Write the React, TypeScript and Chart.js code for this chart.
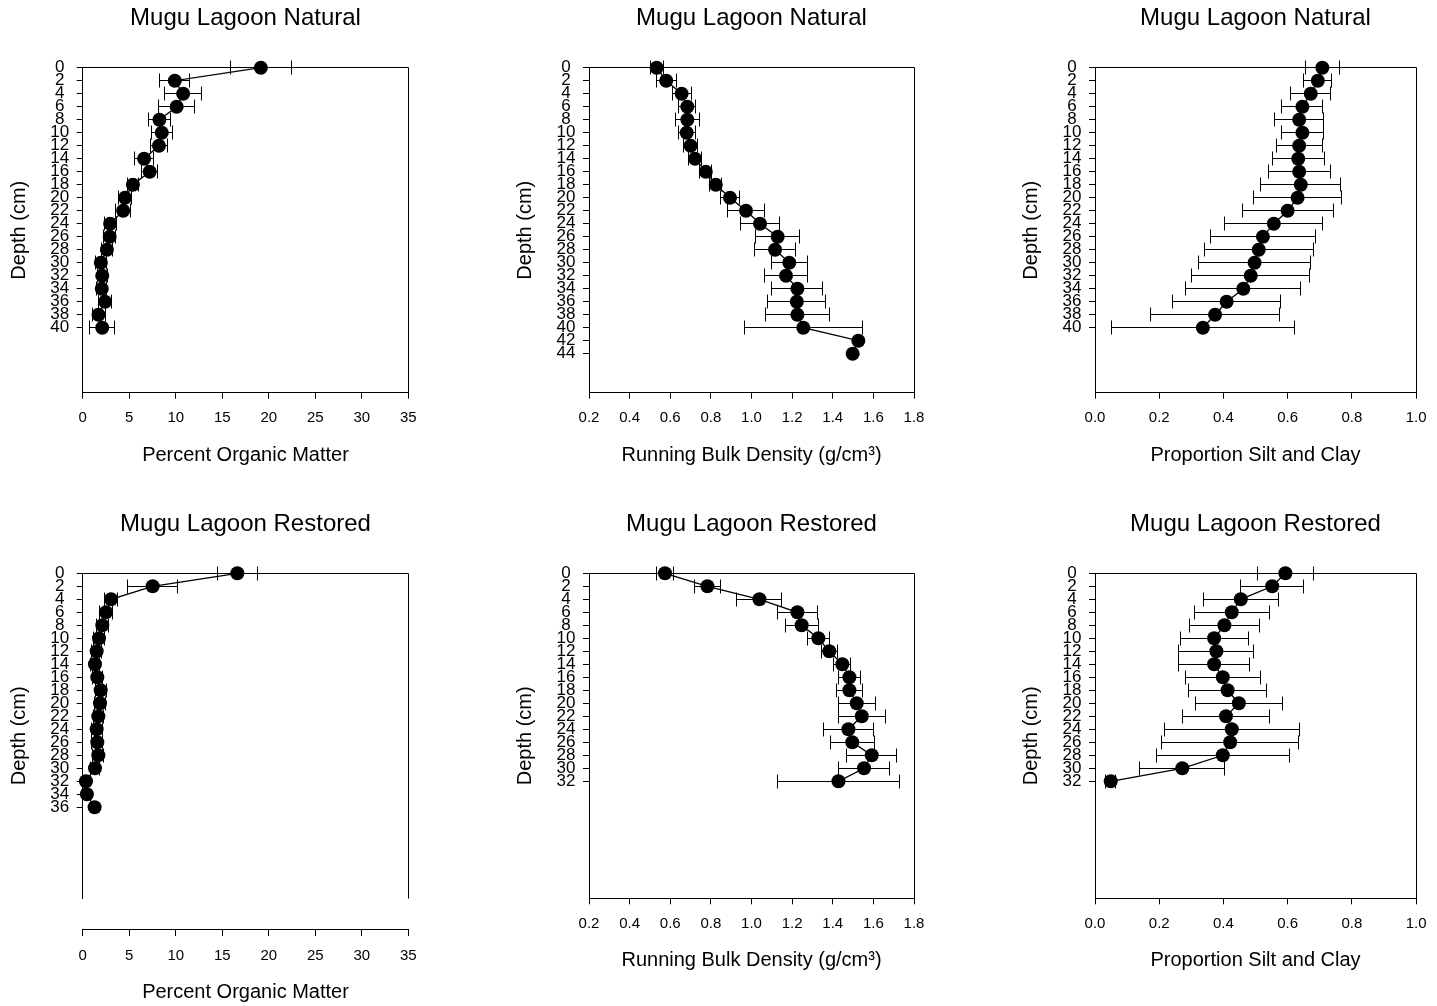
import { useEffect, useRef } from "react";
import { Chart, registerables } from "chart.js";

Chart.register(...registerables);

const FONT = "'Liberation Sans', Arial, Helvetica, sans-serif";

// Sampling depths (cm)
const depthsNaturalOM = [0, 2, 4, 6, 8, 10, 12, 14, 16, 18, 20, 22, 24, 26, 28, 30, 32, 34, 36, 38, 40];
const depthsNaturalBD = [0, 2, 4, 6, 8, 10, 12, 14, 16, 18, 20, 22, 24, 26, 28, 30, 32, 34, 36, 38, 40, 42, 44];
const depthsNaturalSilt = [0, 2, 4, 6, 8, 10, 12, 14, 16, 18, 20, 22, 24, 26, 28, 30, 32, 34, 36, 38, 40];
const depthsRestoredOM = [0, 2, 4, 6, 8, 10, 12, 14, 16, 18, 20, 22, 24, 26, 28, 30, 32, 34, 36];
const depthsRestoredBD = [0, 2, 4, 6, 8, 10, 12, 14, 16, 18, 20, 22, 24, 26, 28, 30, 32];
const depthsRestoredSilt = [0, 2, 4, 6, 8, 10, 12, 14, 16, 18, 20, 22, 24, 26, 28, 30, 32];

// Percent organic matter, natural marsh (mean and standard error)
const omNatural = [19.15, 9.9, 10.8, 10.1, 8.25, 8.5, 8.2, 6.6, 7.2, 5.4, 4.55, 4.35, 2.95, 2.9, 2.6, 1.95, 2.1, 2.05, 2.4, 1.7, 2.1];
const omNaturalSE = [3.25, 1.62, 2.02, 1.97, 1.2, 1.15, 0.88, 1.05, 0.85, 0.55, 0.72, 0.8, 0.63, 0.62, 0.6, 0.6, 0.55, 0.55, 0.65, 0.7, 1.35];

// Running bulk density (g/cm3), natural marsh
const bdNatural = [0.533, 0.58, 0.656, 0.684, 0.684, 0.681, 0.7, 0.722, 0.775, 0.824, 0.894, 0.973, 1.042, 1.129, 1.116, 1.186, 1.17, 1.226, 1.223, 1.226, 1.255, 1.526, 1.498];
const bdNaturalSE = [0.032, 0.05, 0.047, 0.042, 0.059, 0.042, 0.035, 0.03, 0.03, 0.03, 0.049, 0.09, 0.095, 0.107, 0.1, 0.09, 0.107, 0.126, 0.142, 0.156, 0.29, 0, 0];

// Proportion silt and clay, natural marsh
const siltNatural = [0.708, 0.694, 0.672, 0.646, 0.636, 0.646, 0.636, 0.633, 0.636, 0.641, 0.631, 0.6, 0.557, 0.523, 0.51, 0.497, 0.485, 0.462, 0.41, 0.374, 0.336];
const siltNaturalSE = [0.053, 0.044, 0.062, 0.064, 0.076, 0.066, 0.072, 0.081, 0.097, 0.124, 0.137, 0.142, 0.153, 0.163, 0.17, 0.175, 0.183, 0.179, 0.168, 0.2, 0.285];

// Percent organic matter, restored marsh
const omRestored = [16.62, 7.52, 3.04, 2.5, 2.11, 1.75, 1.5, 1.32, 1.57, 1.93, 1.86, 1.68, 1.5, 1.57, 1.68, 1.32, 0.35, 0.45, 1.28];
const omRestoredSE = [2.17, 2.7, 0.72, 0.7, 0.65, 0.6, 0.55, 0.5, 0.55, 0.6, 0.6, 0.55, 0.6, 0.6, 0.6, 0.45, 0, 0, 0];

// Running bulk density (g/cm3), restored marsh
const bdRestored = [0.574, 0.783, 1.039, 1.226, 1.247, 1.329, 1.383, 1.447, 1.482, 1.482, 1.518, 1.543, 1.477, 1.496, 1.592, 1.554, 1.428];
const bdRestoredSE = [0.041, 0.064, 0.111, 0.1, 0.082, 0.054, 0.04, 0.042, 0.055, 0.065, 0.092, 0.115, 0.125, 0.109, 0.123, 0.127, 0.3];

// Proportion silt and clay, restored marsh
const siltRestored = [0.593, 0.552, 0.454, 0.426, 0.403, 0.371, 0.378, 0.371, 0.398, 0.413, 0.448, 0.408, 0.426, 0.421, 0.398, 0.272, 0.049];
const siltRestoredSE = [0.087, 0.098, 0.117, 0.117, 0.11, 0.106, 0.117, 0.11, 0.117, 0.122, 0.136, 0.135, 0.21, 0.213, 0.208, 0.132, 0.015];

const TITLE_NATURAL = "Mugu Lagoon Natural";
const TITLE_RESTORED = "Mugu Lagoon Restored";
const X_TITLE_OM = "Percent Organic Matter";
const X_TITLE_BD = "Running Bulk Density (g/cm³)";
const X_TITLE_SILT = "Proportion Silt and Clay";
const Y_TITLE = "Depth (cm)";
const DEPTH_AXIS_MAX = 50;

// Page layout
const PAGE_W = 1437;
const PAGE_H = 1006;
const CANVAS_W = 479;
const CANVAS_H = 503;
const COL_X = [0, 479, 958];
const ROW_Y = [0, 503];
const BOX_COLS: [number, number][] = [
  [82.7, 408.3],
  [589, 914],
  [1095, 1420],
];
const BOX_ROWS: [number, number][] = [
  [67.7, 392.7],
  [573.3, 898.3],
];
const Y_AXIS_W = 75.5;
const X_AXIS_H = 74.5;
const TITLE_SIZE = 24;
const TITLE_ABOVE = 63.7; // from top of title line to top of plot box
const CAP = 7;

interface PanelSpec {
  key: string;
  row: number;
  col: number;
  title: string;
  xTitle: string;
  xMin: number;
  xMax: number;
  xStep: number;
  decimals: number;
  depths: number[];
  values: number[];
  se: number[];
  axisDrop: number;
}

const panels: PanelSpec[] = [
  { key: "omN", row: 0, col: 0, title: TITLE_NATURAL, xTitle: X_TITLE_OM, xMin: 0, xMax: 35, xStep: 5, decimals: 0, depths: depthsNaturalOM, values: omNatural, se: omNaturalSE, axisDrop: 0 },
  { key: "bdN", row: 0, col: 1, title: TITLE_NATURAL, xTitle: X_TITLE_BD, xMin: 0.2, xMax: 1.8, xStep: 0.2, decimals: 1, depths: depthsNaturalBD, values: bdNatural, se: bdNaturalSE, axisDrop: 0 },
  { key: "siN", row: 0, col: 2, title: TITLE_NATURAL, xTitle: X_TITLE_SILT, xMin: 0, xMax: 1, xStep: 0.2, decimals: 1, depths: depthsNaturalSilt, values: siltNatural, se: siltNaturalSE, axisDrop: 0 },
  { key: "omR", row: 1, col: 0, title: TITLE_RESTORED, xTitle: X_TITLE_OM, xMin: 0, xMax: 35, xStep: 5, decimals: 0, depths: depthsRestoredOM, values: omRestored, se: omRestoredSE, axisDrop: 31.7 },
  { key: "bdR", row: 1, col: 1, title: TITLE_RESTORED, xTitle: X_TITLE_BD, xMin: 0.2, xMax: 1.8, xStep: 0.2, decimals: 1, depths: depthsRestoredBD, values: bdRestored, se: bdRestoredSE, axisDrop: 0 },
  { key: "siR", row: 1, col: 2, title: TITLE_RESTORED, xTitle: X_TITLE_SILT, xMin: 0, xMax: 1, xStep: 0.2, decimals: 1, depths: depthsRestoredSilt, values: siltRestored, se: siltRestoredSE, axisDrop: 0 },
];

const crisp = (p: number) => Math.round(p - 0.5) + 0.5;

function Panel({ spec }: { spec: PanelSpec }) {
  const ref = useRef<HTMLCanvasElement | null>(null);

  useEffect(() => {
    const canvas = ref.current;
    if (!canvas) return;
    const cx = COL_X[spec.col];
    const cy = ROW_Y[spec.row];
    const [L, R] = BOX_COLS[spec.col];
    const [T, B] = BOX_ROWS[spec.row];
    const maxDepth = spec.depths[spec.depths.length - 1];

    const padTop = T - cy - TITLE_ABOVE;
    const titleLine = TITLE_SIZE * 1.2;

    // top and right edges of the plot frame (left/bottom come from the axes)
    const frame = {
      id: "frame",
      beforeDatasetsDraw(chart: Chart) {
        const a = chart.chartArea;
        const ctx = chart.ctx;
        ctx.save();
        ctx.strokeStyle = "#000";
        ctx.lineWidth = 1;
        ctx.beginPath();
        ctx.moveTo(crisp(a.left), crisp(a.top));
        ctx.lineTo(crisp(a.right), crisp(a.top));
        ctx.lineTo(crisp(a.right), crisp(a.bottom));
        ctx.stroke();
        ctx.restore();
      },
    };

    // horizontal standard-error bars with end caps
    const errorBars = {
      id: "errorBars",
      afterDatasetsDraw(chart: Chart) {
        const xs = chart.scales.x;
        const ys = chart.scales.y;
        const ctx = chart.ctx;
        ctx.save();
        ctx.strokeStyle = "#000";
        ctx.lineWidth = 1;
        spec.values.forEach((v, i) => {
          const e = spec.se[i];
          if (!e) return;
          const y = crisp(ys.getPixelForValue(spec.depths[i]));
          const x1 = crisp(xs.getPixelForValue(v - e));
          const x2 = crisp(xs.getPixelForValue(v + e));
          ctx.beginPath();
          ctx.moveTo(x1, y);
          ctx.lineTo(x2, y);
          ctx.moveTo(x1, y - CAP);
          ctx.lineTo(x1, y + CAP);
          ctx.moveTo(x2, y - CAP);
          ctx.lineTo(x2, y + CAP);
          ctx.stroke();
        });
        ctx.restore();
      },
    };

    // moves the horizontal axis down away from the plot frame
    const dropAxis = {
      id: "dropAxis",
      afterLayout(chart: Chart) {
        if (!spec.axisDrop) return;
        const xs = chart.scales.x;
        xs.top += spec.axisDrop;
        xs.bottom += spec.axisDrop;
      },
    };

    const xTickFont = { family: FONT, size: 15, lineHeight: 1.2 };
    const yTickFont = { family: FONT, size: 17, lineHeight: 1.2 };
    const axisTitleFont = { family: FONT, size: 20, lineHeight: 1.2 };
    const gridOpts = {
      display: true,
      drawOnChartArea: false,
      drawTicks: true,
      tickLength: 6,
      tickColor: "#000",
      tickWidth: 1,
      color: "#000",
      lineWidth: 1,
    };

    const chart = new Chart(canvas, {
      type: "scatter",
      data: {
        datasets: [
          {
            data: spec.values.map((v, i) => ({ x: v, y: spec.depths[i] })),
            showLine: true,
            borderColor: "#000",
            borderWidth: 1.3,
            pointRadius: 7,
            pointBackgroundColor: "#000",
            pointBorderColor: "#000",
            pointBorderWidth: 0,
            clip: false,
          } as any,
        ],
      },
      options: {
        animation: false,
        responsive: false,
        maintainAspectRatio: false,
        events: [],
        layout: {
          padding: {
            left: L - cx - Y_AXIS_W,
            right: cx + CANVAS_W - R,
            top: padTop,
            bottom: cy + CANVAS_H - B - X_AXIS_H,
          },
        },
        plugins: {
          legend: { display: false },
          tooltip: { enabled: false },
          title: {
            display: true,
            text: spec.title,
            color: "#000",
            fullSize: false,
            align: "center",
            font: { family: FONT, size: TITLE_SIZE, weight: "normal", lineHeight: 1.2 },
            padding: { top: 0, bottom: T - cy - padTop - titleLine },
          },
        },
        scales: {
          x: {
            type: "linear",
            position: "bottom",
            min: spec.xMin,
            max: spec.xMax,
            afterFit: (s: any) => {
              s.height = X_AXIS_H;
            },
            ticks: {
              stepSize: spec.xStep,
              autoSkip: false,
              maxRotation: 0,
              padding: 10.5,
              color: "#000",
              font: xTickFont,
              callback: (v: any) => Number(v).toFixed(spec.decimals),
            },
            grid: gridOpts,
            border: { display: true, color: "#000", width: 1 },
            title: {
              display: true,
              text: spec.xTitle,
              color: "#000",
              font: axisTitleFont,
              padding: 0,
            },
          },
          y: {
            type: "linear",
            position: "left",
            reverse: true,
            min: 0,
            max: DEPTH_AXIS_MAX,
            afterFit: (s: any) => {
              s.width = Y_AXIS_W;
            },
            afterBuildTicks: (s: any) => {
              s.ticks = s.ticks.filter((t: any) => t.value <= maxDepth);
            },
            ticks: {
              stepSize: 2,
              autoSkip: false,
              padding: 7.5,
              crossAlign: "center",
              color: "#000",
              font: yTickFont,
            },
            grid: gridOpts,
            border: { display: true, color: "#000", width: 1 },
            title: {
              display: true,
              text: Y_TITLE,
              color: "#000",
              font: axisTitleFont,
              padding: 0,
            },
          },
        },
      } as any,
      plugins: [frame, errorBars, dropAxis],
    });

    return () => chart.destroy();
  }, [spec]);

  return (
    <canvas
      ref={ref}
      width={CANVAS_W}
      height={CANVAS_H}
      style={{
        position: "absolute",
        left: COL_X[spec.col],
        top: ROW_Y[spec.row],
        width: CANVAS_W,
        height: CANVAS_H,
      }}
    />
  );
}

export default function App() {
  return (
    <div
      style={{
        position: "absolute",
        left: 0,
        top: 0,
        width: PAGE_W,
        height: PAGE_H,
        background: "#fff",
        overflow: "hidden",
      }}
    >
      {panels.map((p) => (
        <Panel key={p.key} spec={p} />
      ))}
    </div>
  );
}
